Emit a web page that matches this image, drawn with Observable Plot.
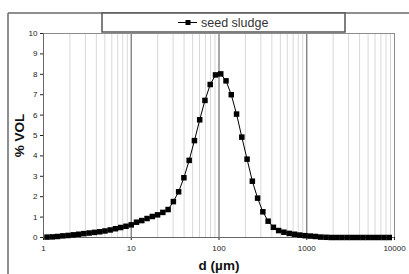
<!DOCTYPE html>
<html>
<head>
<meta charset="utf-8">
<script src="https://cdn.jsdelivr.net/npm/d3@7"></script>
<script src="https://cdn.jsdelivr.net/npm/@observablehq/plot@0.6"></script>
<style>
  html, body { margin: 0; padding: 0; background: #fff; }
  #chart { width: 409px; height: 274px; overflow: hidden; }
</style>
</head>
<body>
<div id="chart"></div>
<script>
// particle size classes (µm)
const sizes = [
  1.096, 1.259, 1.445, 1.660, 1.905, 2.188, 2.512, 2.884, 3.311, 3.802,
  4.365, 5.012, 5.754, 6.607, 7.586, 8.710, 10.00, 11.48, 13.18, 15.14,
  17.38, 19.95, 22.91, 26.30, 30.20, 34.67, 39.81, 45.71, 52.48, 60.26,
  69.18, 79.43, 91.20, 104.7, 120.2, 138.0, 158.5, 182.0, 208.9, 239.9,
  275.4, 316.2, 363.1, 416.9, 478.6, 549.5, 631.0, 724.4, 831.8, 955.0,
  1096, 1259, 1445, 1660, 1905, 2188, 2512, 2884, 3311, 3802,
  4365, 5012, 5754, 6607, 7586, 8710
];
// % volume, seed sludge
const vol = [
  0.02, 0.03, 0.05, 0.08, 0.10, 0.13, 0.16, 0.19, 0.22, 0.25,
  0.28, 0.32, 0.37, 0.43, 0.49, 0.55, 0.62, 0.75, 0.83, 0.93,
  1.03, 1.11, 1.23, 1.37, 1.76, 2.24, 2.93, 3.78, 4.75, 5.77,
  6.72, 7.50, 7.97, 8.02, 7.68, 7.00, 6.05, 4.92, 3.84, 2.76,
  1.93, 1.26, 0.80, 0.50, 0.34, 0.26, 0.20, 0.16, 0.12, 0.09,
  0.07, 0.05, 0.02, 0.01, 0.00, 0.00, 0.00, 0.00, 0.00, 0.00,
  0.00, 0.00, 0.00, 0.00, 0.00, 0.00
];
const seriesName = "seed sludge";
const xTicks = [1, 10, 100, 1000, 10000];
const yTicks = [0, 1, 2, 3, 4, 5, 6, 7, 8, 9, 10];
const majorGrid = [10, 100, 1000];
const minorGrid = [1, 10, 100, 1000].flatMap(d => [2, 3, 4, 5, 6, 7, 8, 9].map(m => m * d));

const data = sizes.map((d, i) => ({d, v: vol[i]}));
const font = "'Liberation Sans', Arial, sans-serif";

const svg = Plot.plot({
  width: 409,
  height: 274,
  marginLeft: 43,
  marginTop: 33,
  marginRight: 15,
  marginBottom: 37,
  style: {fontFamily: font, background: "#fff", overflow: "visible"},
  x: {type: "log", domain: [1, 10000]},
  y: {domain: [0, 10]},
  marks: [
    Plot.ruleX(minorGrid, {stroke: "#d8d8d8", strokeWidth: 1}),
    Plot.ruleX(majorGrid, {stroke: "#7a7a7a", strokeWidth: 1.3}),
    Plot.frame({stroke: "#8c8c8c", strokeWidth: 1}),
    Plot.axisY({ticks: yTicks, tickSize: 3, tickPadding: 3, fontSize: 8, color: "#222", label: null, tickFormat: d3.format("d")}),
    Plot.axisX({ticks: xTicks, tickSize: 3, tickPadding: 5, fontSize: 8, color: "#222", label: null, tickFormat: d3.format("d")}),
    Plot.ruleY([0], {stroke: "#666"}),
    Plot.ruleX([1], {stroke: "#666"}),
    Plot.line(data, {x: "d", y: "v", stroke: "#000", strokeWidth: 1}),
    Plot.dot(data, {x: "d", y: "v", symbol: "square", r: 3.1, fill: "#000", stroke: "none"})
  ]
});

const s = d3.select(svg);
// outer chart frame
s.append("line").attr("x1", 8).attr("y1", 13).attr("x2", 409).attr("y2", 13).attr("stroke", "#6a6a6a").attr("stroke-width", 1.5);
s.append("line").attr("x1", 8).attr("y1", 13).attr("x2", 8).attr("y2", 274).attr("stroke", "#6a6a6a").attr("stroke-width", 1.5);
// legend box
s.append("rect").attr("x", 102).attr("y", 13).attr("width", 243).attr("height", 19)
  .attr("fill", "#fff").attr("stroke", "#555").attr("stroke-width", 1.5);
s.append("line").attr("x1", 178).attr("x2", 197).attr("y1", 22.5).attr("y2", 22.5).attr("stroke", "#000");
s.append("rect").attr("x", 185.5).attr("y", 20).attr("width", 5).attr("height", 5).attr("fill", "#000");
s.append("text").attr("x", 201).attr("y", 27).attr("text-anchor", "start").attr("font-size", 12.5).attr("fill", "#333")
  .attr("font-family", font).text(seriesName);
// axis titles
s.append("text").attr("x", 219).attr("y", 270).attr("text-anchor", "middle")
  .attr("font-size", 13.5).attr("font-weight", "bold").attr("fill", "#111").attr("font-family", font).text("d (µm)");
s.append("text").attr("transform", "translate(24,135.5) rotate(-90)").attr("text-anchor", "middle")
  .attr("font-size", 13.5).attr("font-weight", "bold").attr("fill", "#111").attr("font-family", font).text("% VOL");

document.getElementById("chart").appendChild(svg);
</script>
</body>
</html>
